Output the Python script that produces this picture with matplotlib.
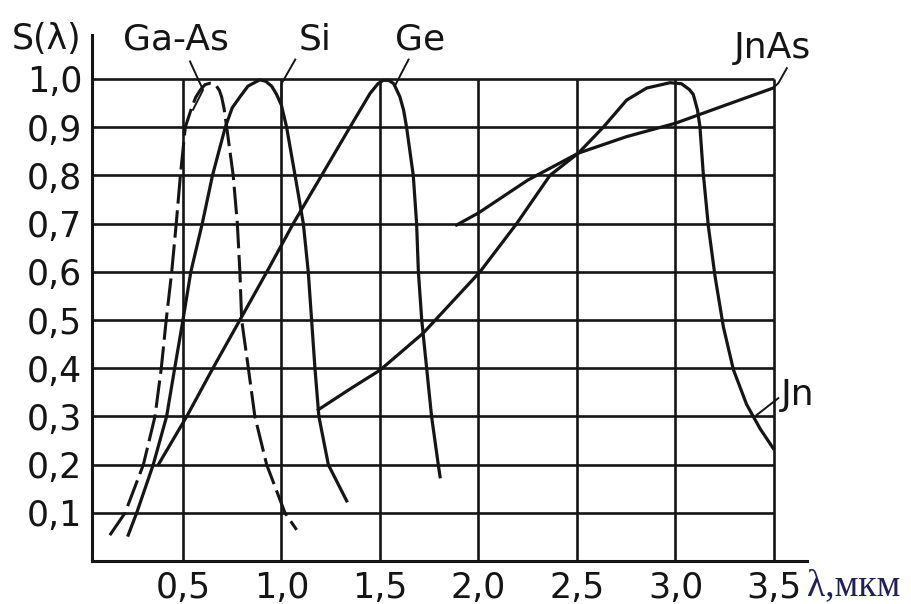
import matplotlib
matplotlib.use('Agg')
import matplotlib.pyplot as plt

# spectral sensitivity curves
gaas_x = [0.129, 0.206, 0.299, 0.358, 0.390, 0.415, 0.443, 0.466, 0.487, 0.512, 0.544, 0.565, 0.590,
          0.612, 0.637, 0.655, 0.670, 0.685, 0.696, 0.708, 0.722, 0.755, 0.776, 0.789, 0.798, 0.832,
          0.865, 0.925, 1.018, 1.077]
gaas_y = [0.054, 0.100, 0.200, 0.300, 0.400, 0.500, 0.600, 0.700, 0.800, 0.900, 0.940, 0.962, 0.978,
          0.988, 0.991, 0.990, 0.985, 0.976, 0.963, 0.940, 0.900, 0.800, 0.700, 0.600, 0.500, 0.400,
          0.300, 0.200, 0.100, 0.065]

si_x = [0.222, 0.265, 0.349, 0.417, 0.458, 0.500, 0.540, 0.598, 0.650, 0.715, 0.750, 0.790, 0.830,
        0.890, 0.920, 0.950, 0.975, 1.000, 1.026, 1.069, 1.111, 1.136, 1.153, 1.170, 1.190, 1.238, 1.331]
si_y = [0.054, 0.100, 0.200, 0.300, 0.400, 0.500, 0.600, 0.700, 0.800, 0.900, 0.940, 0.963, 0.985,
        0.998, 0.995, 0.985, 0.968, 0.945, 0.900, 0.800, 0.700, 0.600, 0.500, 0.400, 0.300, 0.200, 0.125]

ge_x = [0.375, 0.519, 0.652, 0.789, 0.926, 1.060, 1.204, 1.348, 1.450, 1.490, 1.517, 1.545,
        1.570, 1.601, 1.620, 1.635, 1.669, 1.686, 1.695, 1.712, 1.737, 1.762, 1.796, 1.805]
ge_y = [0.200, 0.300, 0.400, 0.500, 0.600, 0.700, 0.800, 0.900, 0.970, 0.990, 0.997, 0.997,
        0.990, 0.963, 0.935, 0.900, 0.800, 0.700, 0.600, 0.500, 0.400, 0.300, 0.200, 0.175]

jn_x = [1.187, 1.348, 1.500, 1.720, 2.008, 2.194, 2.363, 2.507, 2.634, 2.752, 2.854, 2.972, 3.030,
        3.070, 3.090, 3.112, 3.124, 3.141, 3.167, 3.201, 3.243, 3.294, 3.361, 3.429, 3.496]
jn_y = [0.314, 0.357, 0.396, 0.473, 0.600, 0.700, 0.800, 0.846, 0.900, 0.956, 0.981, 0.992, 0.990,
        0.978, 0.968, 0.935, 0.901, 0.804, 0.694, 0.590, 0.486, 0.397, 0.325, 0.275, 0.234]

jnas_x = [1.889, 2.000, 2.250, 2.507, 2.750, 3.000, 3.250, 3.496]
jnas_y = [0.697, 0.722, 0.790, 0.846, 0.880, 0.908, 0.945, 0.981]

x_ticks = [0.5, 1.0, 1.5, 2.0, 2.5, 3.0, 3.5]
x_labels = ['0,5', '1,0', '1,5', '2,0', '2,5', '3,0', '3,5']
y_ticks = [0.1, 0.2, 0.3, 0.4, 0.5, 0.6, 0.7, 0.8, 0.9, 1.0]
y_labels = ['0,1', '0,2', '0,3', '0,4', '0,5', '0,6', '0,7', '0,8', '0,9', '1,0']

ink = '#151515'

fig = plt.figure(figsize=(9.11, 6.04), dpi=100)
ax = fig.add_axes([0.1007, 0.0709, 0.7848, 0.8712])
ax.set_xlim(0.037, 3.666)
ax.set_ylim(0, 1.091)

for side in ['top', 'right']:
    ax.spines[side].set_visible(False)
for side in ['left', 'bottom']:
    ax.spines[side].set_linewidth(2.2)
    ax.spines[side].set_color(ink)

# grid
ax.hlines(y_ticks, 0.037, 3.5, color=ink, lw=1.9, zorder=1)
ax.vlines(x_ticks, 0, 1.0, color=ink, lw=1.9, zorder=1)

ax.set_xticks(x_ticks)
ax.set_xticklabels(x_labels)
ax.set_yticks(y_ticks)
ax.set_yticklabels(y_labels)
ax.tick_params(length=0, pad=7, labelsize=25, colors=ink)

# curves
ax.plot(gaas_x, gaas_y, color=ink, lw=2.2, linestyle=(0, (9, 2.2)))
ax.plot(si_x, si_y, color=ink, lw=2.3)
ax.plot(ge_x, ge_y, color=ink, lw=2.3)
ax.plot(jn_x, jn_y, color=ink, lw=2.3)
ax.plot(jnas_x, jnas_y, color=ink, lw=2.3)

# leader lines
ax.plot([0.536, 0.602, 0.551], [1.036, 0.977, 0.936], color=ink, lw=1.4, clip_on=False)
ax.plot([1.070, 1.000, 1.000], [1.040, 0.990, 0.945], color=ink, lw=1.4, clip_on=False)
ax.plot([1.645, 1.575], [1.040, 0.985], color=ink, lw=1.4, clip_on=False)
ax.plot([3.565, 3.522, 3.496], [1.022, 0.991, 0.981], color=ink, lw=1.4, clip_on=False)
ax.plot([3.522, 3.412], [0.338, 0.303], color=ink, lw=1.4, clip_on=False)

# labels
ax.text(0.463, 1.081, 'Ga-As', ha='center', va='center', fontsize=26, color=ink, clip_on=False)
ax.text(1.170, 1.081, 'Si', ha='center', va='center', fontsize=26, color=ink, clip_on=False)
ax.text(1.703, 1.081, 'Ge', ha='center', va='center', fontsize=26, color=ink, clip_on=False)
ax.text(3.492, 1.064, 'JnAs', ha='center', va='center', fontsize=26, color=ink, clip_on=False)
ax.text(3.619, 0.345, 'Jn', ha='center', va='center', fontsize=26, color=ink, clip_on=False)
ax.text(-0.192, 1.083, 'S(λ)', ha='center', va='center', fontsize=25, color=ink, clip_on=False)
ax.text(3.668, -0.051, 'λ,мкм', ha='left', va='center', fontsize=27, color='#1f1f5a',
        family='Liberation Serif', clip_on=False)

fig.savefig('out.png', dpi=100, facecolor='white')
